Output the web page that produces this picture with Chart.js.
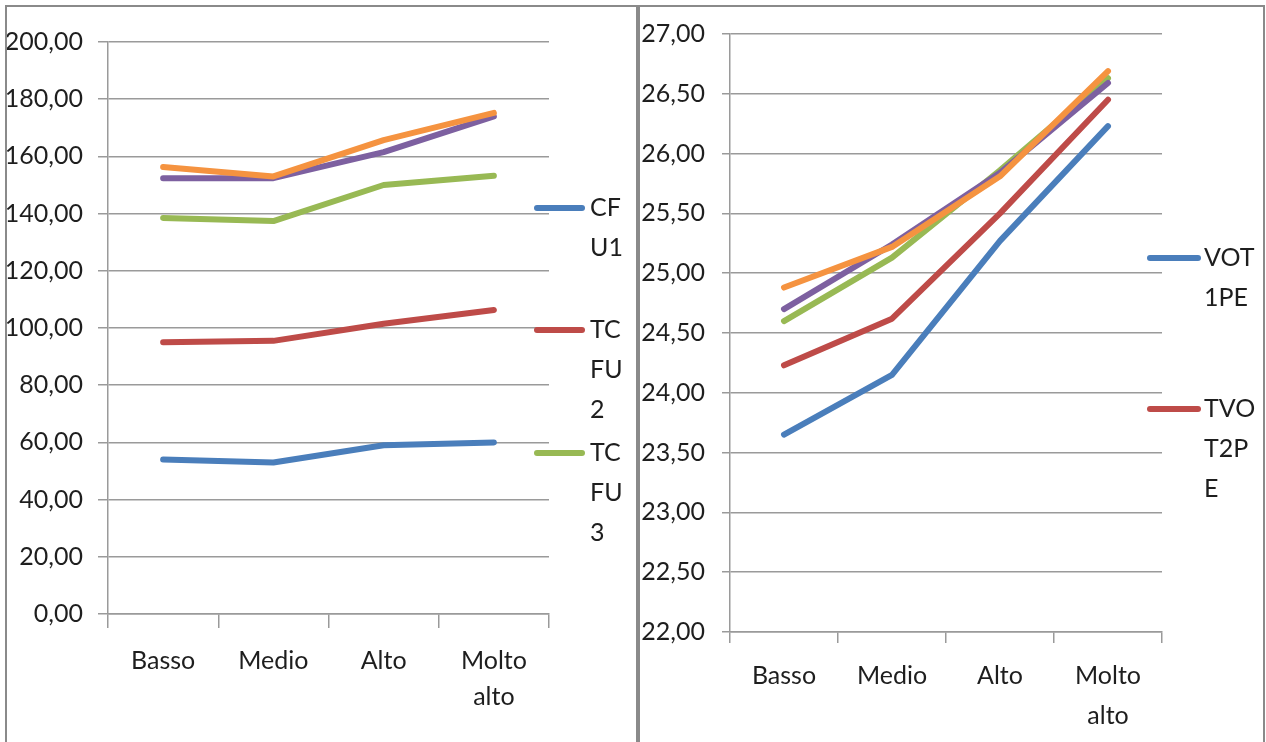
<!DOCTYPE html>
<html>
<head>
<meta charset="utf-8">
<script src="https://cdn.jsdelivr.net/npm/chart.js@4/dist/chart.umd.min.js"></script>
<style>
  body { margin: 0; background: #fff; }
  #wrap { position: relative; width: 1266px; height: 742px; overflow: hidden; }
  canvas { position: absolute; top: 0; }
  #cLeft { left: 0; }
  #cRight { left: 640px; }
  .frame { position: absolute; border: 2px solid #8a8a8a; border-bottom: none; pointer-events: none; }
</style>
</head>
<body>
<div id="wrap">
  <canvas id="cLeft" width="637" height="742"></canvas>
  <canvas id="cRight" width="626" height="742"></canvas>
  <div class="frame" style="left:5px; top:5px; width:629px; height:760px;"></div>
  <div class="frame" style="left:638px; top:5px; width:623px; height:760px;"></div>
</div>
<script>
// categories (x axis)
const categories = ["Basso", "Medio", "Alto", ["Molto", "alto"]];

// left panel
const cfu1 = [54.0, 53.0, 59.0, 60.0];
const tcfu2 = [95.0, 95.5, 101.5, 106.3];
const tcfu3 = [138.5, 137.4, 150.0, 153.2];
const leftSeries4 = [152.4, 152.4, 161.5, 174.0];
const leftSeries5 = [156.3, 153.0, 165.7, 175.2];
const leftLegend = [["CF", "U1"], ["TC", "FU", "2"], ["TC", "FU", "3"]];

// right panel
const vot1pe = [23.65, 24.15, 25.27, 26.23];
const tvot2pe = [24.23, 24.62, 25.50, 26.45];
const rightSeries3 = [24.60, 25.13, 25.86, 26.63];
const rightSeries4 = [24.70, 25.24, 25.84, 26.59];
const rightSeries5 = [24.88, 25.22, 25.81, 26.69];
const rightLegend = [["VOT", "1PE"], ["TVO", "T2P", "E"]];

const colors = ["#4a7ebb", "#be4b48", "#98b954", "#7d60a0", "#f59340"];
const FONT = "Lato, 'DejaVu Sans Condensed', sans-serif";
const FSIZE = 25;
const gridColor = "#9a9a9a";
const textColor = "#1e1e1e";

function fmt(v) { return v.toFixed(2).replace(".", ","); }

function mkDatasets(list) {
  return list.map((d, i) => ({
    label: "s" + (i + 1),
    data: d,
    borderColor: colors[i],
    backgroundColor: colors[i],
    borderWidth: 6,
    pointRadius: 0,
    tension: 0,
    borderCapStyle: "round",
    borderJoinStyle: "round",
    order: list.length - i,
  }));
}

// draws the (cut off) legend like the original: short line + text wrapped in pieces
const sideLegend = {
  id: "sideLegend",
  afterDraw(chart, args, opts) {
    const ctx = chart.ctx;
    ctx.save();
    opts.items.forEach((pieces, i) => {
      const y = opts.ys[i];
      ctx.strokeStyle = colors[i];
      ctx.lineWidth = 6;
      ctx.lineCap = "round";
      ctx.beginPath();
      ctx.moveTo(opts.x1, y);
      ctx.lineTo(opts.x2, y);
      ctx.stroke();
      ctx.fillStyle = textColor;
      ctx.font = FSIZE + "px " + FONT;
      ctx.textBaseline = "middle";
      ctx.textAlign = "left";
      pieces.forEach((p, k) => ctx.fillText(p, opts.tx, y + k * 40));
    });
    ctx.restore();
  }
};

function mkOptions(cfg) {
  return {
    responsive: false,
    animation: false,
    devicePixelRatio: 1,
    layout: { padding: { left: 0, right: cfg.padRight, top: cfg.padTop, bottom: 0 } },
    plugins: {
      legend: { display: false },
      tooltip: { enabled: false },
      sideLegend: cfg.legend,
    },
    scales: {
      x: {
        offset: true,
        grid: { drawOnChartArea: false, offset: true, tickLength: cfg.xTick, color: gridColor, lineWidth: 1.5 },
        border: { color: gridColor, width: 1.5 },
        ticks: { color: textColor, font: { family: FONT, size: FSIZE, lineHeight: cfg.xLine }, padding: cfg.xPad, maxRotation: 0, autoSkip: false },
        afterFit(s) { s.height = cfg.xHeight; },
      },
      y: {
        min: cfg.min, max: cfg.max,
        grid: { color: gridColor, lineWidth: 1.5, tickLength: cfg.yTick },
        border: { color: gridColor, width: 1.5 },
        ticks: { stepSize: cfg.step, color: textColor, font: { family: FONT, size: FSIZE }, padding: cfg.yPad, callback: v => fmt(v) },
        afterFit(s) { s.width = cfg.yWidth; },
      },
    },
  };
}

new Chart(document.getElementById("cLeft"), {
  type: "line",
  data: { labels: categories, datasets: mkDatasets([cfu1, tcfu2, tcfu3, leftSeries4, leftSeries5]) },
  options: mkOptions({
    padRight: 88, padTop: 42, xHeight: 128, xTick: 14, xPad: 15, xLine: 1.45, yWidth: 108, yTick: 10, yPad: 15,
    min: 0, max: 200, step: 20,
    legend: { items: leftLegend, ys: [208, 330, 453], x1: 537, x2: 582, tx: 590 },
  }),
  plugins: [sideLegend],
});

new Chart(document.getElementById("cRight"), {
  type: "line",
  data: { labels: categories, datasets: mkDatasets([vot1pe, tvot2pe, rightSeries3, rightSeries4, rightSeries5]) },
  options: mkOptions({
    padRight: 104, padTop: 34, xHeight: 110, xTick: 11, xPad: 13, xLine: 1.6, yWidth: 90, yTick: 8, yPad: 17,
    min: 22, max: 27, step: 0.5,
    legend: { items: rightLegend, ys: [258, 409], x1: 510, x2: 558, tx: 564 },
  }),
  plugins: [sideLegend],
});
</script>
</body>
</html>
